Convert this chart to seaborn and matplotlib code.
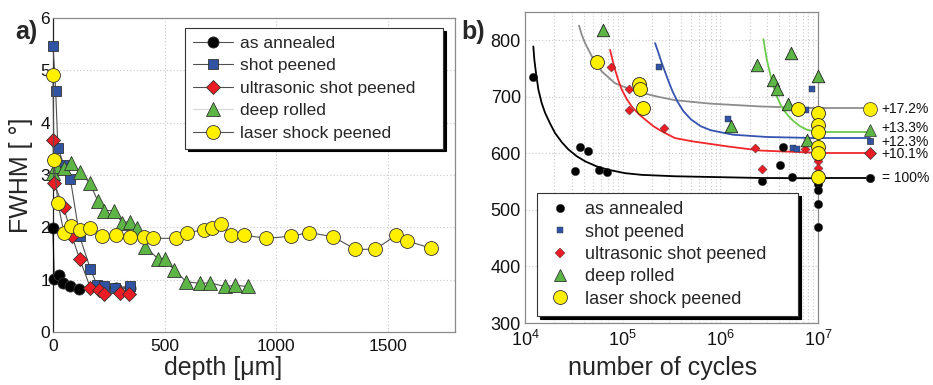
import matplotlib
matplotlib.use("Agg")
import matplotlib.pyplot as plt
import matplotlib.transforms as mtransforms
from matplotlib.lines import Line2D
from matplotlib.ticker import LogLocator, NullFormatter, FixedLocator
import pandas as pd
import seaborn as sns

sns.set_theme(style="white")
plt.rcParams["font.family"] = ["Liberation Sans", "DejaVu Sans"]
plt.rcParams["mathtext.fontset"] = "custom"
plt.rcParams["mathtext.rm"] = "Liberation Sans"
plt.rcParams["mathtext.it"] = "Liberation Sans:italic"

# ---------------- data: panel a (FWHM vs depth) ----------------
series_names = ["as annealed", "shot peened", "ultrasonic shot peened",
                "deep rolled", "laser shock peened"]

aa_depth = [0, 5, 25, 45, 75, 115, 280, 345]
aa_fwhm = [1.99, 1.02, 1.08, 0.93, 0.87, 0.82, 0.84, 0.84]

sp_depth = [0, 12, 22, 48, 78, 119, 167, 198, 227, 279, 343]
sp_fwhm = [5.47, 4.61, 3.52, 3.20, 2.92, 1.83, 1.21, 0.89, 0.87, 0.85, 0.87]

usp_depth = [0, 4, 48, 85, 119, 167, 206, 228, 298, 339]
usp_fwhm = [3.67, 2.84, 2.38, 1.83, 1.40, 0.85, 0.81, 0.73, 0.75, 0.73]

dr_depth = [0, 15, 48, 79, 119, 164, 201, 227, 272, 310, 343, 378, 413,
            470, 500, 542, 597, 657, 701, 769, 816, 873]
dr_fwhm = [3.03, 3.17, 3.13, 3.22, 3.06, 2.85, 2.50, 2.32, 2.32, 2.09, 2.11,
           1.99, 1.63, 1.40, 1.40, 1.19, 0.96, 0.93, 0.94, 0.87, 0.89, 0.87]

lsp_depth = [0, 4, 22, 49, 79, 119, 167, 219, 281, 343, 406, 448, 549, 600,
             675, 713, 751, 799, 855, 955, 1067, 1146, 1254, 1354, 1443,
             1537, 1585, 1694]
lsp_fwhm = [4.91, 3.28, 2.46, 1.90, 2.02, 1.95, 1.99, 1.83, 1.86, 1.82, 1.82,
            1.79, 1.79, 1.90, 1.95, 1.99, 2.07, 1.85, 1.85, 1.79, 1.83, 1.90,
            1.82, 1.58, 1.58, 1.85, 1.74, 1.60]

# ---------------- data: panel b (S-N) ----------------
aa_N = [12200, 32800, 36600, 43800, 57300, 69800, 2.7e6, 4.05e6, 4.37e6,
        5.41e6, 1e7, 1e7, 1e7, 1e7, 1e7, 1e7]
aa_S = [735, 569, 612, 604, 570, 567, 551, 579, 612, 559,
        560, 550, 545, 535, 510, 470]

sp_N = [2.38e5, 1.21e6, 5.6e6, 6.1e6, 7.6e6, 8.65e6, 1e7]
sp_S = [752, 660, 609, 608, 676, 714, 592]

usp_N = [75500, 1.16e5, 1.17e5, 2.62e5, 2.28e6, 2.67e6, 7.4e6, 1e7, 1e7, 1e7]
usp_S = [752, 676, 714, 645, 610, 572, 607, 586, 575, 565]

dr_N = [63500, 1.28e6, 2.4e6, 3.45e6, 3.85e6, 4.88e6, 5.3e6, 7.8e6, 1e7]
dr_S = [819, 648, 757, 730, 714, 687, 778, 624, 737]

lsp_N = [54200, 1.47e5, 1.51e5, 1.6e5, 6.3e6, 1e7, 1e7, 1e7, 1e7, 1e7, 1e7]
lsp_S = [762, 723, 713, 681, 678, 671, 650, 637, 611, 600, 559]

# fitted curves
fit_aa_N = [12170, 12460, 12960, 13700, 14820, 16030, 18040, 20300, 23750,
            27800, 33840, 41200, 54240, 71420, 105800, 156800, 344400,
            2.57e6, 1e7]
fit_aa_S = [789, 766, 742, 713, 689, 672, 653, 636, 620, 607, 595, 586, 577,
            571, 565, 562, 559.5, 556.5, 556]

fit_lsp_N = [35750, 38070, 41200, 48220, 61050, 83570, 134000, 232400,
             344400, 786000, 2.557e6, 1e7]
fit_lsp_S = [826, 810, 795, 772, 745, 724, 710, 700, 694, 688, 683, 680]

fit_usp_N = [74290, 78490, 83570, 90420, 97800, 110100, 123800, 144900,
             169700, 206500, 251400, 344400, 530400, 1.165e6, 2.557e6, 1e7]
fit_usp_S = [783, 766, 748, 729, 713, 696, 683, 670, 660, 648, 639, 627,
             621, 612.5, 605, 601]

fit_sp_N = [214800, 232300, 251200, 271800, 294400, 323600, 363100, 416900,
            501200, 631000, 794300, 1.35e6, 3.0e6, 1e7]
fit_sp_S = [795, 778, 760, 744, 728, 710, 692, 675, 660, 648, 641, 633,
            629, 627]

fit_dr_N = [2.767e6, 2.877e6, 2.993e6, 3.162e6, 3.368e6, 3.558e6, 3.788e6,
            4.1e6, 4.436e6, 4.99e6, 5.615e6, 6.57e6, 7.69e6, 1e7]
fit_dr_S = [802, 783, 766, 748, 730, 714, 701, 688, 677, 666, 657, 648,
            642, 637]

label_vals = [679, 641, 622, 601, 556]
label_text_y = [679, 645, 621, 599, 556]
label_texts = ["+17.2%", "+13.3%", "+12.3%", "+10.1%", "= 100%"]

# ---------------- styles ----------------
C_BLACK, C_BLUE, C_RED, C_GREEN, C_YEL = "#000000", "#3153A3", "#EC1C24", "#5DB546", "#FFF000"
MK = ["o", "s", "D", "^", "o"]
FC = [C_BLACK, C_BLUE, C_RED, C_GREEN, C_YEL]
MS_A = [8.0, 7.5, 7.0, 9.5, 10.0]
MS_B = [6.0, 5.0, 4.6, 9.0, 10.0]
GRID = dict(color="#c8c8c8", linestyle=(0, (1, 2)), linewidth=0.8)
SPINE = "#8a8a8a"

fig = plt.figure(figsize=(9.33, 3.85), dpi=100)
axa = fig.add_axes([0.0568, 0.1377, 0.4309, 0.8156])
axb = fig.add_axes([0.5627, 0.161, 0.314, 0.8078])

# ---------------- panel a ----------------
a_series = [(aa_depth, aa_fwhm), (sp_depth, sp_fwhm), (usp_depth, usp_fwhm),
            (dr_depth, dr_fwhm), (lsp_depth, lsp_fwhm)]
order_a = [0, 1, 3, 2, 4]
for z, i in enumerate(order_a):
    x, y = a_series[i]
    df = pd.DataFrame({"x": x, "y": y})
    sns.lineplot(data=df, x="x", y="y", ax=axa, sort=False, estimator=None,
                 color=("#000000" if i == 0 else "#505050"), linewidth=0.8,
                 marker=MK[i], markersize=MS_A[i], markerfacecolor=FC[i],
                 markeredgecolor="#333333", markeredgewidth=0.6,
                 clip_on=False, zorder=3 + z)

axa.set_xlim(0, 1800)
axa.set_ylim(0, 6)
axa.xaxis.set_major_locator(FixedLocator([0, 500, 1000, 1500]))
axa.yaxis.set_major_locator(FixedLocator([0, 1, 2, 3, 4, 5, 6]))
axa.grid(True, **GRID)
axa.set_axisbelow(True)
for s in axa.spines.values():
    s.set_color(SPINE)
    s.set_linewidth(0.9)
axa.spines["left"].set_color("#222222")
axa.tick_params(axis="both", direction="in", length=3, color=SPINE,
                labelsize=12.5, colors="#111111")
axa.tick_params(axis="x", pad=5)
axa.tick_params(axis="y", pad=2)
axa.set_xlabel("depth [μm]", fontsize=18)
axa.set_ylabel("FWHM [ °]", fontsize=18)
axa.xaxis.set_label_coords(0.423, -0.075)
axa.yaxis.set_label_coords(-0.05, 0.50)

handles_a = []
for i, name in enumerate(series_names):
    lc = "#d8d8d8" if i == 3 else "#505050"
    handles_a.append(Line2D([], [], color=lc, lw=0.8, marker=MK[i],
                            markersize=MS_A[i], markerfacecolor=FC[i],
                            markeredgecolor="#333333", markeredgewidth=0.6))
lega = axa.legend(handles_a, series_names, loc="upper left",
                  bbox_to_anchor=(0.328, 0.58, 0.642, 0.388), mode="expand",
                  borderaxespad=0, fontsize=12.5, handlelength=2.3,
                  handletextpad=0.4, labelspacing=0.42, borderpad=0.45,
                  frameon=True, fancybox=False, edgecolor="#333333",
                  framealpha=1, shadow={"color": "black", "alpha": 1})
lega.get_frame().set_linewidth(0.8)
lega.set_zorder(20)

# ---------------- panel b ----------------
axb.set_xscale("log")
b_series = [(aa_N, aa_S), (sp_N, sp_S), (usp_N, usp_S), (dr_N, dr_S), (lsp_N, lsp_S)]
fits = [(fit_aa_N, fit_aa_S, C_BLACK), (fit_lsp_N, fit_lsp_S, "#8c8c8c"),
        (fit_usp_N, fit_usp_S, "#F0262A"), (fit_sp_N, fit_sp_S, "#3553B0"),
        (fit_dr_N, fit_dr_S, "#6CCB4C")]

trans_b = mtransforms.blended_transform_factory(axb.transAxes, axb.transData)
for fx, fy, col in fits:
    df = pd.DataFrame({"x": fx, "y": fy})
    sns.lineplot(data=df, x="x", y="y", ax=axb, sort=False, estimator=None,
                 color=col, linewidth=1.3, clip_on=False, zorder=3)
    axb.plot([1.0, 1.179], [fy[-1], fy[-1]], transform=trans_b, color=col,
             lw=1.3, clip_on=False, zorder=3)

for i, (x, y) in enumerate(b_series):
    df = pd.DataFrame({"x": x, "y": y})
    sns.scatterplot(data=df, x="x", y="y", ax=axb, marker=MK[i],
                    s=MS_B[i] ** 2, color=FC[i],
                    edgecolor=("#222222" if i in (3, 4) else "#333333"),
                    linewidth=(0.6 if i in (3, 4) else 0.3),
                    clip_on=False, zorder=5 + i)

# right-hand labels
lab_order = [4, 3, 1, 2, 0]
for k, (v, ty, t) in enumerate(zip(label_vals, label_text_y, label_texts)):
    i = lab_order[k]
    axb.plot([1.179], [v], transform=trans_b, marker=MK[i],
             markersize=MS_B[i] if i != 2 else 6.0, markerfacecolor=FC[i],
             markeredgecolor="#333333", markeredgewidth=0.5, clip_on=False,
             zorder=10, linestyle="none")
    axb.text(1.218, ty, t, transform=trans_b, fontsize=10, va="center",
             ha="left", color="#111111")

axb.set_xlim(1e4, 1e7)
axb.set_ylim(300, 850)
axb.yaxis.set_major_locator(FixedLocator([300, 400, 500, 600, 700, 800]))
axb.xaxis.set_major_locator(LogLocator(base=10, numticks=10))
axb.xaxis.set_minor_locator(LogLocator(base=10, subs=range(2, 10), numticks=20))
axb.xaxis.set_minor_formatter(NullFormatter())
axb.grid(True, which="major", **GRID)
axb.grid(True, which="minor", axis="x", **GRID)
axb.set_axisbelow(True)
for s in axb.spines.values():
    s.set_color(SPINE)
    s.set_linewidth(0.9)
axb.tick_params(axis="both", which="both", direction="in", color=SPINE,
                labelsize=13, colors="#111111")
axb.tick_params(axis="x", which="major", pad=5)
axb.tick_params(axis="y", which="major", pad=3)
axb.tick_params(axis="both", which="major", length=4)
axb.tick_params(axis="x", which="minor", length=2)
axb.set_xlabel("number of cycles", fontsize=18)
axb.set_ylabel("")
axb.xaxis.set_label_coords(0.47, -0.105)

handles_b = []
for i in range(5):
    handles_b.append(Line2D([], [], linestyle="none", marker=MK[i],
                            markersize=MS_B[i], markerfacecolor=FC[i],
                            markeredgecolor="#333333",
                            markeredgewidth=(0.6 if i in (3, 4) else 0.3)))
legb = axb.legend(handles_b, series_names, loc="upper left",
                  bbox_to_anchor=(0.041, 0.019, 0.891, 0.399), mode="expand",
                  borderaxespad=0, fontsize=13, handlelength=1.6,
                  handletextpad=0.6, labelspacing=0.3, borderpad=0.45,
                  frameon=True, fancybox=False, edgecolor="#333333",
                  framealpha=1, shadow={"color": "black", "alpha": 1})
legb.get_frame().set_linewidth(0.8)
legb.set_zorder(20)

fig.text(0.016, 0.918, "a)", fontsize=18, fontweight="bold", va="center", ha="left")
fig.text(0.494, 0.918, "b)", fontsize=18, fontweight="bold", va="center", ha="left")

fig.savefig("out.png", dpi=100)
